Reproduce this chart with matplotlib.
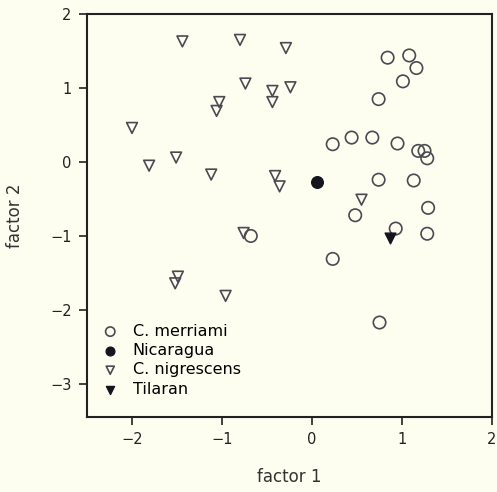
import matplotlib
matplotlib.use("Agg")
import matplotlib.pyplot as plt

# C. merriami (open circles)
merriami_x = [0.84, 1.08, 1.16, 1.01, 0.74, 0.23, 0.44, 0.67, 0.95, 1.18, 1.25, 1.28,
              0.74, 1.13, 0.48, 1.29, 0.93, 1.28, 0.23, 0.75, -0.68]
merriami_y = [1.41, 1.44, 1.27, 1.09, 0.85, 0.24, 0.33, 0.33, 0.25, 0.15, 0.15, 0.05,
              -0.24, -0.25, -0.72, -0.62, -0.90, -0.97, -1.31, -2.17, -1.00]

# Nicaragua (filled circle)
nicaragua_x = [0.06]
nicaragua_y = [-0.27]

# C. nigrescens (open triangles)
nigrescens_x = [-1.44, -0.80, -0.29, -0.74, -0.44, -0.24, -0.44, -1.03, -1.06, -2.00,
                -1.51, -1.81, -1.12, -0.41, -0.36, -0.76, -1.49, -1.52, -0.96, 0.55]
nigrescens_y = [1.63, 1.65, 1.54, 1.06, 0.96, 1.01, 0.81, 0.81, 0.69, 0.46,
                0.06, -0.05, -0.17, -0.19, -0.33, -0.96, -1.55, -1.64, -1.81, -0.51]

# Tilaran (filled triangle)
tilaran_x = [0.87]
tilaran_y = [-1.03]

bg = '#fdfdf0'
edge = '#4a4a52'

plt.rcParams['font.family'] = ['DejaVu Sans']
fig = plt.figure(figsize=(4.97, 4.92), dpi=100, facecolor=bg)
ax = fig.add_axes([0.175, 0.152, 0.815, 0.8195], facecolor=bg)

ax.scatter(merriami_x, merriami_y, s=80, marker='o', facecolors='none',
           edgecolors=edge, linewidths=1.2, label='C. merriami')
ax.scatter(nicaragua_x, nicaragua_y, s=70, marker='o', color='#15151f',
           label='Nicaragua')
ax.scatter(nigrescens_x, nigrescens_y, s=60, marker='v', facecolors='none',
           edgecolors=edge, linewidths=1.2, label='C. nigrescens')
ax.scatter(tilaran_x, tilaran_y, s=60, marker='v', color='#15151f',
           label='Tilaran')

ax.set_xlim(-2.5, 2.0)
ax.set_ylim(-3.45, 2.0)
ax.set_xticks([-2, -1, 0, 1, 2])
ax.set_yticks([-3, -2, -1, 0, 1, 2])
ax.set_xticklabels(['\u22122', '\u22121', '0', '1', '2'])
ax.set_yticklabels(['\u22123', '\u22122', '\u22121', '0', '1', '2'])
ax.tick_params(direction='out', length=6, width=1.2, labelsize=10.5,
               colors='#222222', pad=5)
for sp in ax.spines.values():
    sp.set_linewidth(1.5)
    sp.set_color('#222222')

ax.set_xlabel('factor 1', fontsize=12, color='#333333', labelpad=15)
ax.set_ylabel('factor 2', fontsize=12, color='#333333', labelpad=19)

ax.legend(loc='lower left', frameon=False, fontsize=11.5, markerscale=0.75,
          handlelength=1.2, handletextpad=0.8, labelspacing=0.27,
          borderaxespad=0.0, bbox_to_anchor=(0.018, 0.035))

fig.savefig('out.png', dpi=100, facecolor=bg)
